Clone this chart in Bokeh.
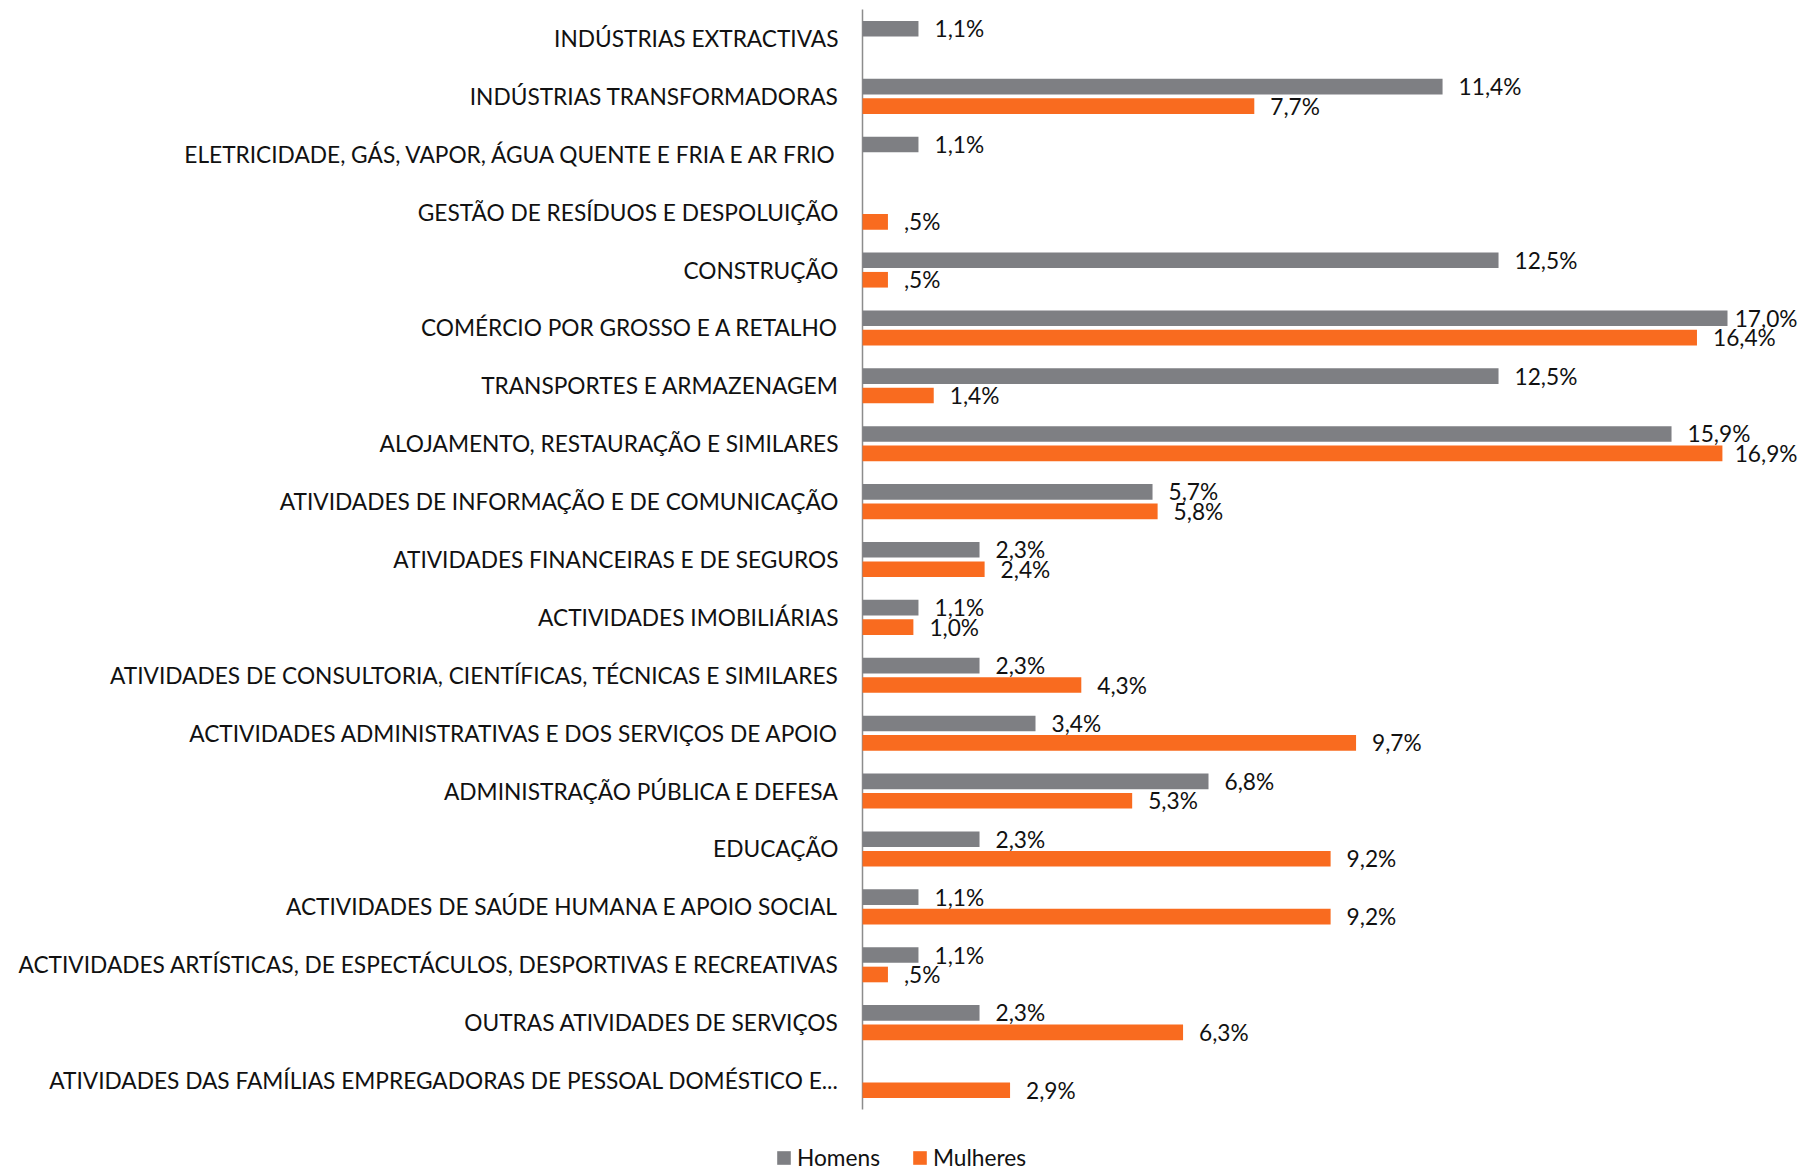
from bokeh.plotting import figure
from bokeh.models import Range1d, ColumnDataSource, Legend, LegendItem
from bokeh.core.properties import value
from bokeh.embed import file_html
from bokeh.resources import INLINE

categories = [
    "INDÚSTRIAS EXTRACTIVAS",
    "INDÚSTRIAS TRANSFORMADORAS",
    "ELETRICIDADE, GÁS, VAPOR, ÁGUA QUENTE E FRIA E AR FRIO",
    "GESTÃO DE RESÍDUOS E DESPOLUIÇÃO",
    "CONSTRUÇÃO",
    "COMÉRCIO POR GROSSO E A RETALHO",
    "TRANSPORTES E ARMAZENAGEM",
    "ALOJAMENTO, RESTAURAÇÃO E SIMILARES",
    "ATIVIDADES DE INFORMAÇÃO E DE COMUNICAÇÃO",
    "ATIVIDADES FINANCEIRAS E DE SEGUROS",
    "ACTIVIDADES IMOBILIÁRIAS",
    "ATIVIDADES DE CONSULTORIA, CIENTÍFICAS, TÉCNICAS E SIMILARES",
    "ACTIVIDADES ADMINISTRATIVAS E DOS SERVIÇOS DE APOIO",
    "ADMINISTRAÇÃO PÚBLICA E DEFESA",
    "EDUCAÇÃO",
    "ACTIVIDADES DE SAÚDE HUMANA E APOIO SOCIAL",
    "ACTIVIDADES ARTÍSTICAS, DE ESPECTÁCULOS, DESPORTIVAS E RECREATIVAS",
    "OUTRAS ATIVIDADES DE SERVIÇOS",
    "ATIVIDADES DAS FAMÍLIAS EMPREGADORAS DE PESSOAL DOMÉSTICO E...",
]
homens = [1.1, 11.4, 1.1, None, 12.5, 17.0, 12.5, 15.9, 5.7, 2.3, 1.1, 2.3, 3.4, 6.8, 2.3, 1.1, 1.1, 2.3, None]
mulheres = [None, 7.7, None, 0.5, 0.5, 16.4, 1.4, 16.9, 5.8, 2.4, 1.0, 4.3, 9.7, 5.3, 9.2, 9.2, 0.5, 6.3, 2.9]
series_names = ["Homens", "Mulheres"]

GRAY = "#7E7F83"
ORANGE = "#F96B1F"
TEXT = "#111111"
FONT = "Lato"
FS = "22.7px"

W, H = 1800, 1172
axis_px = 862          # pixel position of the value axis
top_px = 9             # top of the category area
row_px = 1100 / 19     # height of one category row
px_per_unit = 865 / 17.0
n = len(categories)

x_range = Range1d(-axis_px / px_per_unit, (W - axis_px) / px_per_unit)
y_range = Range1d((H - top_px) / row_px, -top_px / row_px)

p = figure(width=W, height=H, output_backend="svg", toolbar_location=None,
           x_range=x_range, y_range=y_range,
           min_border=0, min_border_left=0, min_border_right=0,
           min_border_top=0, min_border_bottom=0)
p.outline_line_color = None
p.grid.visible = False
p.axis.visible = False

# value axis line
p.segment(x0=[0], y0=[0], x1=[0], y1=[n], line_color="#8C8C8C", line_width=1.5)

# category labels
p.text(x=[0] * n, y=[i + 0.5 for i in range(n)], text=categories,
       x_offset=-24, text_align="right", text_baseline="middle",
       text_font=value(FONT), text_font_size=value(FS), text_color=TEXT)

OFF = 0.168
BH = 0.27
gap_px = 16
label_w_units = 66 / px_per_unit
x_end = x_range.end


def fmt(v):
    s = f"{v:.1f}".replace(".", ",")
    if s.startswith("0"):
        s = s[1:]
    return s + "%"


renderers = []
for vals, off, color in [(homens, -OFF, GRAY), (mulheres, OFF, ORANGE)]:
    ys = [i + 0.5 + off for i, v in enumerate(vals) if v is not None]
    xs = [v for v in vals if v is not None]
    src = ColumnDataSource(dict(y=ys, right=xs))
    r = p.hbar(y="y", left=0, right="right", height=BH, source=src,
               fill_color=color, line_color=None)
    renderers.append(r)

    normal = dict(x=[], y=[], t=[])
    clipped = dict(x=[], y=[], t=[])
    for y, v in zip(ys, xs):
        if v + gap_px / px_per_unit + label_w_units > x_end:
            clipped["x"].append(x_end)
            clipped["y"].append(y)
            clipped["t"].append(fmt(v))
        else:
            normal["x"].append(v)
            normal["y"].append(y)
            normal["t"].append(fmt(v))
    p.text(x="x", y="y", text="t", source=ColumnDataSource(normal),
           x_offset=gap_px, text_align="left", text_baseline="middle",
           text_font=value(FONT), text_font_size=value(FS), text_color=TEXT)
    p.text(x="x", y="y", text="t", source=ColumnDataSource(clipped),
           x_offset=-3, text_align="right", text_baseline="middle",
           text_font=value(FONT), text_font_size=value(FS), text_color=TEXT)

legend = Legend(items=[LegendItem(label=series_names[0], renderers=[renderers[0]]),
                       LegendItem(label=series_names[1], renderers=[renderers[1]])],
                orientation="horizontal", location=(775, 1),
                glyph_width=17, glyph_height=17, label_standoff=5, spacing=31,
                padding=0, margin=0, border_line_color=None,
                background_fill_alpha=0,
                label_text_font=FONT, label_text_font_size=FS,
                label_text_color=TEXT)
p.add_layout(legend, "center")

open("out.html", "w").write(file_html(p, INLINE))
